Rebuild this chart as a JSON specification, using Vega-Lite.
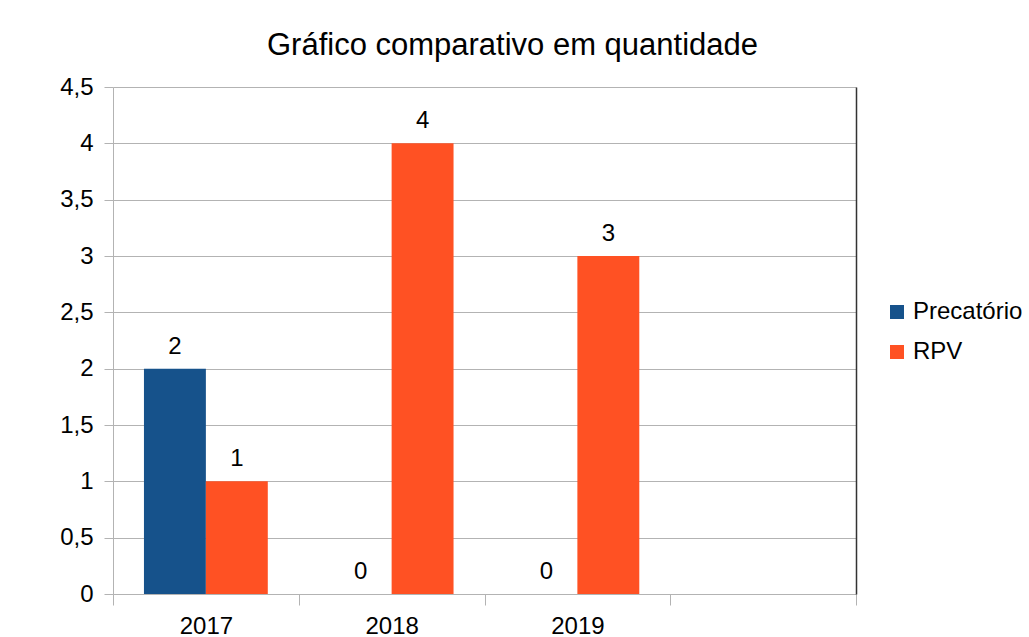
{
  "$schema": "https://vega.github.io/schema/vega-lite/v6.json",
  "width": 743,
  "height": 507,
  "autosize": {"type": "none"},
  "padding": {"left": 113, "top": 87, "right": 173, "bottom": 43},
  "background": "white",
  "title": {
    "text": "Gráfico comparativo em quantidade",
    "fontSize": 31,
    "font": "Liberation Sans",
    "fontWeight": "normal",
    "color": "#000000",
    "anchor": "middle",
    "dx": 28,
    "offset": 13
  },
  "data": {
    "values": [
      {"ano": "2017", "serie": "Precatório", "valor": 2},
      {"ano": "2017", "serie": "RPV", "valor": 1},
      {"ano": "2018", "serie": "Precatório", "valor": 0},
      {"ano": "2018", "serie": "RPV", "valor": 4},
      {"ano": "2019", "serie": "Precatório", "valor": 0},
      {"ano": "2019", "serie": "RPV", "valor": 3}
    ]
  },
  "encoding": {
    "x": {
      "field": "ano",
      "type": "nominal",
      "sort": null,
      "scale": {"domain": ["2017", "2018", "2019", ""], "paddingInner": 0, "paddingOuter": 0},
      "axis": {
        "title": null,
        "tickBand": "extent",
        "tickSize": 11,
        "tickColor": "#b3b3b3",
        "domainColor": "#b3b3b3",
        "labelFontSize": 24,
        "labelFont": "Liberation Sans",
        "labelColor": "#000000",
        "labelPadding": 9,
        "labelAngle": 0,
        "grid": false
      }
    },
    "xOffset": {
      "field": "serie",
      "type": "nominal",
      "scale": {"domain": ["Precatório", "RPV"], "paddingOuter": 0.5, "paddingInner": 0}
    }
  },
  "layer": [
    {
      "mark": {"type": "bar"},
      "encoding": {
        "y": {
          "field": "valor",
          "type": "quantitative",
          "scale": {"domain": [0, 4.5], "nice": false},
          "axis": {
            "title": null,
            "orient": "left",
            "values": [0, 0.5, 1, 1.5, 2, 2.5, 3, 3.5, 4, 4.5],
            "labelExpr": "replace(toString(datum.value), '.', ',')",
            "tickSize": 9,
            "tickColor": "#b3b3b3",
            "domainColor": "#b3b3b3",
            "gridColor": "#b3b3b3",
            "grid": true,
            "labelFontSize": 24,
            "labelFont": "Liberation Sans",
            "labelColor": "#000000",
            "labelPadding": 11
          }
        },
        "color": {
          "field": "serie",
          "type": "nominal",
          "scale": {"domain": ["Precatório", "RPV"], "range": ["#16528b", "#ff5123"]},
          "legend": {
            "orient": "none",
            "legendX": 772,
            "legendY": 213,
            "title": null,
            "padding": 0,
            "symbolType": "square",
            "symbolSize": 196,
            "symbolStrokeWidth": 0,
            "symbolOpacity": 1,
            "labelFontSize": 24,
            "labelFont": "Liberation Sans",
            "labelColor": "#000000",
            "labelOffset": 4,
            "labelLimit": 200,
            "rowPadding": 16
          }
        }
      }
    },
    {
      "mark": {"type": "text", "baseline": "alphabetic", "dy": -15, "fontSize": 24, "font": "Liberation Sans", "color": "#000000"},
      "encoding": {
        "y": {
          "field": "valor",
          "type": "quantitative",
          "scale": {"domain": [0, 4.5], "nice": false},
          "axis": {
            "title": null,
            "orient": "right",
            "labels": false,
            "ticks": false,
            "grid": false,
            "domainColor": "#333333",
            "domainWidth": 1.5
          }
        },
        "text": {"field": "valor", "type": "quantitative"}
      }
    }
  ],
  "resolve": {"axis": {"y": "independent"}},
  "config": {
    "view": {"stroke": null},
    "font": "Liberation Sans"
  }
}
